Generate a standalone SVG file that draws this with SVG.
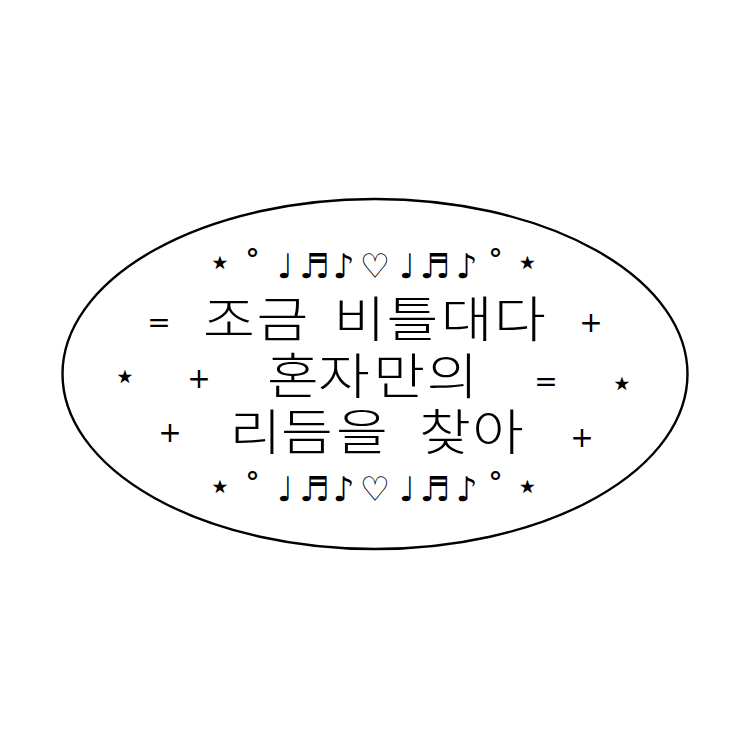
<svg xmlns="http://www.w3.org/2000/svg" width="750" height="750" viewBox="0 0 750 750">
<style>
.bg{fill:#fff}
.frame{fill:#fff;stroke:#000;stroke-width:2.4}
.ko{font-family:"Noto Sans CJK KR","Noto Sans",sans-serif;font-size:49px;font-weight:300;fill:#000;text-anchor:middle}
.deco{font-family:"DejaVu Sans",sans-serif;font-size:34px;fill:#000;text-anchor:middle}
.sym{font-family:"DejaVu Sans",sans-serif;font-size:28px;fill:#000;text-anchor:middle}
.star{font-family:"DejaVu Sans",sans-serif;font-size:38px;fill:#000;text-anchor:middle}
</style>
<rect class="bg" x="0" y="0" width="750" height="750"/>
<g id="frame">
<ellipse class="frame" cx="375" cy="374" rx="312.5" ry="175"/>
</g>
<g id="deco-top">
<text class="star" x="220" y="275">⋆</text>
<text class="deco" x="252.5 285 314.5 343.5 375 407 435 466.5 495.5" y="278">˚♩♬♪♡♩♬♪˚</text>
<text class="star" x="527.5" y="275">⋆</text>
</g>
<g id="line1">
<text class="sym" x="159" y="332">=</text>
<text class="ko" transform="scale(1.15 1)" x="199.1 245.7 287 312.6 358.7 405.7 452.2" y="337">조금 비틀대다</text>
<text class="sym" x="591" y="332">+</text>
</g>
<g id="line2">
<text class="star" x="125" y="389">⋆</text>
<text class="sym" x="199" y="388">+</text>
<text class="ko" transform="scale(1.15 1)" x="254.8 299.1 347 393.5" y="394">혼자만의</text>
<text class="sym" x="546" y="391">=</text>
<text class="star" x="622" y="396">⋆</text>
</g>
<g id="line3">
<text class="sym" x="170" y="442">+</text>
<text class="ko" transform="scale(1.15 1)" x="222.2 267 314.8 347.8 387 433" y="450">리듬을 찾아</text>
<text class="sym" x="582" y="447">+</text>
</g>
<g id="deco-bottom">
<text class="star" x="220" y="499">⋆</text>
<text class="deco" x="252.5 285 314.5 343.5 375 407 435 466.5 495.5" y="501">˚♩♬♪♡♩♬♪˚</text>
<text class="star" x="527.5" y="499">⋆</text>
</g>
</svg>
